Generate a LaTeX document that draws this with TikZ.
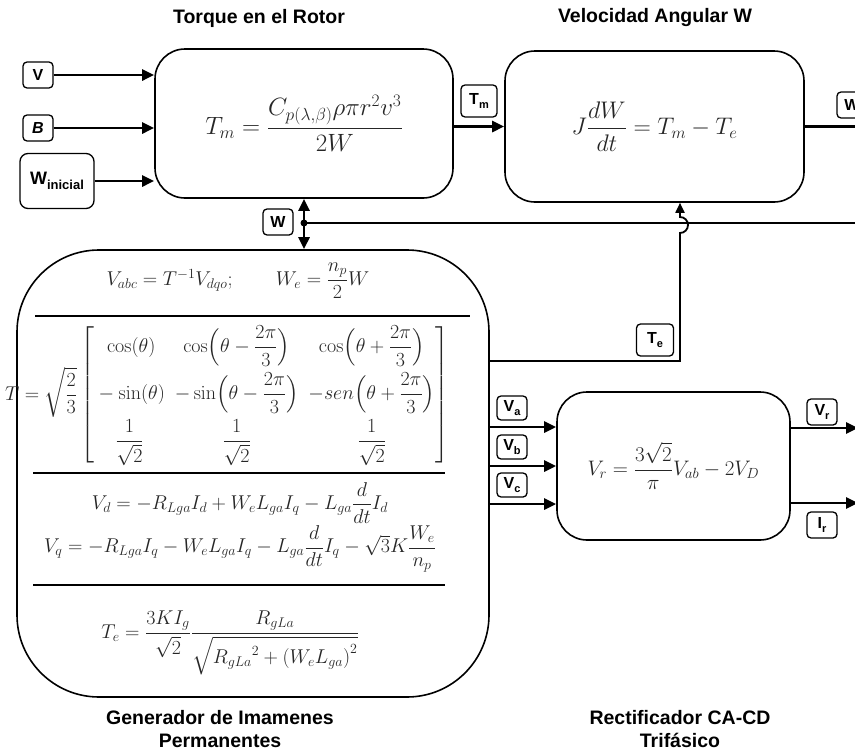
\RequirePackage{fix-cm}
\documentclass[tikz,border=0pt]{standalone}
\usepackage{amsmath}
\usepackage[no-math]{fontspec}
\newfontfamily\arialfont{Liberation Sans}
\usetikzlibrary{positioning, arrows.meta, calc}
\newcommand{\lowsub}[1]{\raisebox{-4pt}{\fontsize{11}{11}\selectfont #1}}
\newcommand{\rowstrut}{\rule[-19pt]{0pt}{47pt}}

\begin{document}
\begin{tikzpicture}[x=1pt, y=-1pt, >={Triangle[length=12pt, width=11pt]},
    block/.style={draw, line width=1.6pt, rounded corners=30pt, inner sep=0pt, text=black!85},
    tag/.style={draw, line width=1.3pt, rounded corners=4pt, inner sep=2pt, minimum width=30pt, minimum height=26pt, font=\arialfont\bfseries\fontsize{16}{18}\selectfont},
    title/.style={font=\arialfont\bfseries\fontsize{19.5}{23}\selectfont, align=center},
    eq/.style={text=black!85, font=\fontsize{20}{24}\selectfont},
    flow/.style={line width=2.6pt, ->},
    wire/.style={line width=1.8pt},
    sep/.style={line width=2.4pt}]
    \useasboundingbox (0,0) rectangle (855,755);
    % Titles
    \node[title] (rotortitle) at (259,18) {Torque en el Rotor};
    \node[title] (veltitle) at (655,18) {Velocidad Angular W};
    \node[title] (gentitle) at (220,729) {Generador de Imamenes\\Permanentes};
    \node[title] (rectitle) at (680,729) {Rectificador CA-CD\\Trifásico};
    % Blocks
    \node[block, minimum width=298pt, minimum height=149pt, font=\fontsize{25}{30}\selectfont] (rotor) at (304,123.5) {$T_m = \dfrac{C_{p(\lambda,\beta)}\rho\pi r^2v^3}{2W}$};
    \node[block, minimum width=299pt, minimum height=151pt, font=\fontsize{24}{29}\selectfont] (vel) at (654.5,126.5) {$J\dfrac{dW}{dt} = T_m - T_e$};
    \node[block, rounded corners=82pt, minimum width=472pt, minimum height=447pt] (gen) at (253,473.5) {};
    \node[block, minimum width=233pt, minimum height=148pt, font=\fontsize{21}{25}\selectfont] (rect) at (673.5,466) {$V_r = \dfrac{3\sqrt{2}}{\pi}V_{ab} - 2V_D$};
    % Generator equations
    \node[eq] (genrow) at (238,281) {$V_{abc} = T^{-1}V_{dqo};\qquad W_e = \dfrac{n_p}{2}W$};
    \draw[sep] (35,316) -- (470,316);
    \node[eq] (genmat) at (227,395) {$T = \sqrt{\dfrac{2}{3}}\begin{bmatrix}
        \rowstrut\cos(\theta) & \cos\Bigl(\theta - \dfrac{2\pi}{3}\Bigr) & \cos\Bigl(\theta + \dfrac{2\pi}{3}\Bigr)\\
        \rowstrut-\sin(\theta) & -\sin\Bigl(\theta - \dfrac{2\pi}{3}\Bigr) & -sen\Bigl(\theta + \dfrac{2\pi}{3}\Bigr)\\
        \rowstrut\dfrac{1}{\sqrt{2}} & \dfrac{1}{\sqrt{2}} & \dfrac{1}{\sqrt{2}}
        \end{bmatrix}$};
    \draw[sep] (33,473) -- (445,473);
    \node[eq] (genvd) at (240,503) {$V_d = -R_{Lga}I_d + W_eL_{ga}I_q - L_{ga}\dfrac{d}{dt}I_d$};
    \node[eq] (genvq) at (240,549) {$V_q = -R_{Lga}I_q - W_eL_{ga}I_q - L_{ga}\dfrac{d}{dt}I_q - \sqrt{3}K\dfrac{W_e}{n_p}$};
    \draw[sep] (33,585) -- (445,585);
    \node[eq] (gente) at (230,643) {$T_e = \dfrac{3KI_g}{\sqrt{2}}\dfrac{R_{gLa}}{\sqrt{{R_{gLa}}^2 + \left(W_eL_{ga}\right)^2}}$};
    % Rotor inputs
    \node[tag] (vin) at (38,75) {V};
    \node[tag] (bin) at (38,128) {\itshape B};
    \node[tag, rounded corners=8pt, minimum width=74pt, minimum height=55pt, font=\arialfont\bfseries\fontsize{18}{20}\selectfont] (winit) at (57,181) {W\raisebox{-5pt}{\fontsize{13}{13}\selectfont inicial}};
    \draw[flow] (vin) -- (vin -| rotor.west);
    \draw[flow] (bin) -- (bin -| rotor.west);
    \draw[flow] (winit) -- (winit -| rotor.west);
    % Rotor to velocity
    \node[tag, minimum height=32pt, minimum width=36pt] (tm) at (479,101) {T\lowsub{m}};
    \draw[flow] (rotor.east |- vel.west) -- (vel.west);
    % W output
    \node[tag] (wout) at (852,105) {W};
    \coordinate (wend) at (860,126.5);
    \draw[line width=2.6pt] (vel.east) -- (wend);
    % W feedback
    \coordinate (wj) at (304,223);
    \coordinate (wline) at (860,223);
    \node[tag] (wfb) at (278,222) {W};
    \draw[flow] (wj) -- (wj |- rotor.south);
    \draw[flow] (wj) -- (wj |- gen.north);
    \draw[wire] (wj) -- (wline);
    \fill (wj) circle (3.5);
    % Electric torque
    \coordinate (teout) at (gen.east |- 0,361);
    \coordinate (tebend) at (680,361);
    \node[tag, minimum height=32pt, minimum width=37pt] (te) at (655,340) {T\lowsub{e}};
    \draw[wire, ->, >={Triangle[length=10pt, width=9pt]}] (teout) -- (tebend) -- (680,233) arc[start angle=90, end angle=-90, radius=8] -- (tebend |- vel.south);
    % Phase voltages
    \foreach \ph/\y in {a/427, b/466, c/504} {
        \node[tag, minimum height=24pt] (v\ph) at (512,\y-19) {V\lowsub{\ph}};
        \draw[flow] (gen.east |- 0,\y) -- (rect.west |- 0,\y);
    }
    % Rectifier outputs
    \coordinate (vrend) at (858,428);
    \coordinate (irend) at (858,503);
    \node[tag] (vr) at (822,412) {V\lowsub{r}};
    \node[tag] (ir) at (822,525) {I\lowsub{r}};
    \draw[flow] (rect.east |- vrend) -- (vrend);
    \draw[flow] (rect.east |- irend) -- (irend);
\end{tikzpicture}
\end{document}
